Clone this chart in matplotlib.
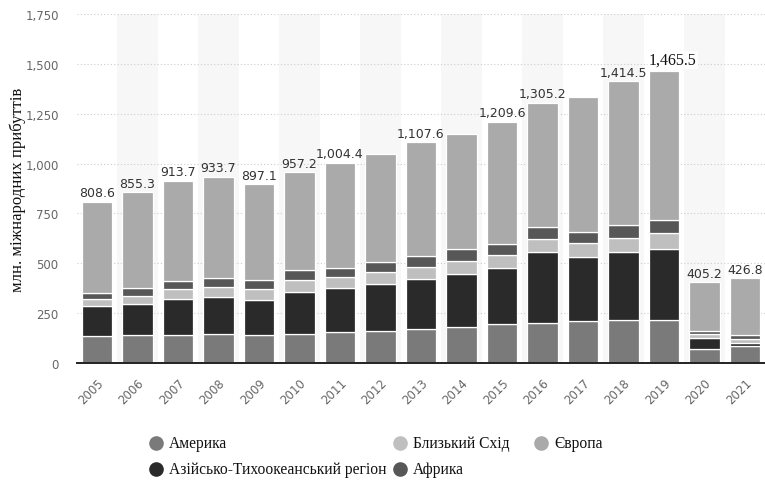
import numpy as np
import matplotlib.pyplot as plt
from matplotlib.lines import Line2D

years = ["2005", "2006", "2007", "2008", "2009", "2010", "2011", "2012", "2013",
         "2014", "2015", "2016", "2017", "2018", "2019", "2020", "2021"]

# million international arrivals, by region
america = [134, 138, 141, 148, 139, 148, 154, 160, 171, 183, 197, 202, 212, 215, 215, 68, 84]
asia_pacific = [151, 159, 182, 184, 179, 209, 221, 237, 248, 264, 277, 356, 319, 343, 359, 56, 17]
middle_east = [37, 38, 49, 50, 54, 60, 55, 58, 63, 67, 70, 65, 72, 68, 77, 20, 17]
africa = [30, 40, 37, 43, 42, 48, 47, 54, 57, 59, 54, 58, 56, 67, 65, 19, 20]
totals = [808.6, 855.3, 913.7, 933.7, 897.1, 957.2, 1004.4, 1050, 1107.6,
          1150, 1209.6, 1305.2, 1336, 1414.5, 1465.5, 405.2, 426.8]
europe = [t - a - b - c - d for t, a, b, c, d in
          zip(totals, america, asia_pacific, middle_east, africa)]

# which bars carry a value label
labelled = [True, True, True, True, True, True, True, False, True,
            False, True, True, False, True, True, True, True]

series = [
    ("Америка", america, "#7a7a7a"),
    ("Азійсько-Тихоокеанський регіон", asia_pacific, "#2a2a2a"),
    ("Близький Схід", middle_east, "#bfbfbf"),
    ("Африка", africa, "#575757"),
    ("Європа", europe, "#aaaaaa"),
]

serif = "Liberation Serif"

fig = plt.figure(figsize=(7.65, 4.81), dpi=100)
ax = fig.add_axes([0.1003, 0.2432, 0.9, 0.7256])

x = np.arange(len(years))

# alternating background stripes
for i in x:
    if i % 2 == 1:
        ax.axvspan(i - 0.5, i + 0.5, color="#f7f7f7", zorder=0, lw=0)

bottom = np.zeros(len(years))
for name, vals, col in series:
    ax.bar(x, vals, width=0.75, bottom=bottom, color=col, edgecolor="white",
           linewidth=0.9, zorder=3)
    bottom += np.array(vals)

for i, t in enumerate(totals):
    if not labelled[i]:
        continue
    txt = f"{t:,.1f}"
    if years[i] == "2019":
        ax.text(i + 0.22, t + 14, txt, ha="center", va="bottom", fontsize=11.5,
                family=serif, color="#111111", zorder=5,
                bbox=dict(facecolor="white", edgecolor="none", pad=1))
    else:
        ax.text(i, t + 12, txt, ha="center", va="bottom", fontsize=9,
                color="#333333", zorder=5)

ax.set_xlim(-0.5, len(years) - 0.5)
ax.set_ylim(0, 1750)
ax.set_yticks(np.arange(0, 1751, 250))
ax.set_yticklabels([f"{v:,}" for v in range(0, 1751, 250)])
ax.yaxis.grid(True, linestyle=(0, (1, 2)), color="#cccccc", linewidth=0.8, zorder=1)
ax.set_axisbelow(True)

ax.set_xticks(x)
ax.set_xticklabels(years, rotation=45, ha="right", va="top",
                   rotation_mode="anchor")
ax.tick_params(axis="x", length=0, pad=9, labelsize=8.5, labelcolor="#666666")
ax.tick_params(axis="y", length=0, pad=13, labelsize=8.5, labelcolor="#666666")

for s in ["left", "right", "top"]:
    ax.spines[s].set_visible(False)
ax.spines["bottom"].set_color("#222222")
ax.spines["bottom"].set_linewidth(1.4)
ax.spines["bottom"].set_zorder(6)

ax.set_ylabel("млн. міжнародних прибуттів", family=serif, fontsize=12,
              color="#111111")
ax.yaxis.set_label_coords(-0.073, 0.5)

# legend laid out by hand, as in the reference
W, H = 765, 481
legend_items = [
    ("Америка", "#7a7a7a", 156, 444),
    ("Близький Схід", "#bfbfbf", 400, 444),
    ("Європа", "#aaaaaa", 541, 444),
    ("Азійсько-Тихоокеанський регіон", "#2a2a2a", 156, 470),
    ("Африка", "#575757", 400, 470),
]
for label, col, px, py in legend_items:
    fig.add_artist(Line2D([px / W], [1 - py / H], marker="o", markersize=9.5,
                          color=col, linestyle="none", transform=fig.transFigure))
    fig.text((px + 13) / W, 1 - py / H, label, family=serif, fontsize=11.2,
             color="#111111", va="center", ha="left")

fig.savefig("out.png", dpi=100)
